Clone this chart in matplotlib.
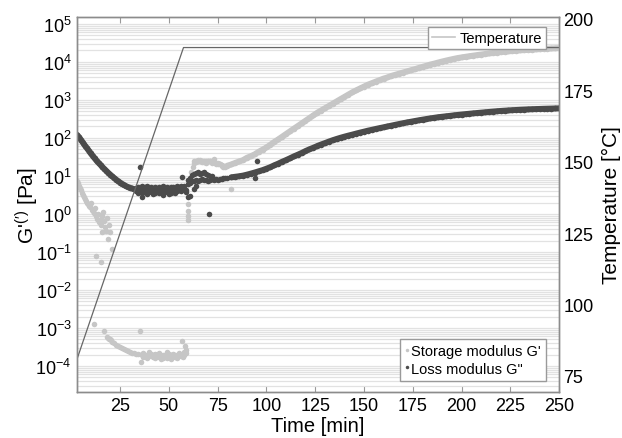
import matplotlib
matplotlib.use('Agg')
import matplotlib.pyplot as plt
from matplotlib.lines import Line2D
from matplotlib.ticker import LogLocator, NullFormatter

plt.rcParams['font.family'] = ['Liberation Sans', 'DejaVu Sans']
plt.rcParams['mathtext.fontset'] = 'custom'
plt.rcParams['mathtext.rm'] = 'Liberation Sans'
plt.rcParams['mathtext.it'] = 'Liberation Sans:italic'

# ---- temperature program ----
temp_time = [0, 57.5, 250]
temp_val = [75, 190, 190]

# ---- loss modulus G'' (dark) ----
loss_t1 = list(range(3, 33))
loss_v1 = [120, 104, 88, 75, 63, 54, 46, 39, 33.5, 29, 25, 22, 19.5, 17, 15.2,
           13.5, 12, 10.8, 9.7, 8.8, 8.0, 7.3, 6.7, 6.2, 5.8, 5.4, 5.1, 4.9, 4.7, 4.5]

loss_t2 = list(range(33, 57))
loss_v2a = [4.9, 5.2, 4.8, 5.3, 4.6, 5.0, 5.4, 4.7, 5.1, 4.8, 5.2, 4.9, 5.0, 4.6,
            5.3, 4.8, 5.1, 4.7, 5.0, 5.2, 4.9, 5.4, 5.1, 5.6]
loss_v2b = [3.9, 3.6, 4.1, 3.5, 3.8, 4.0, 3.4, 3.7, 3.9, 3.3, 3.6, 4.0, 3.5, 3.8,
            3.2, 3.7, 3.9, 3.4, 3.6, 3.8, 3.5, 3.9, 4.2, 4.0]
loss_v2c = [4.4, 4.2, 4.5, 4.3, 4.1, 4.4, 4.6, 4.2, 4.3, 4.5, 4.1, 4.4, 4.3, 4.2,
            4.5, 4.3, 4.4, 4.1, 4.3, 4.6, 4.4, 4.5, 4.7, 4.9]

loss_t3 = [57, 58, 59, 60, 61, 62, 60, 61, 62]
loss_v3 = [5.0, 5.5, 4.2, 6.0, 6.5, 7.2, 8.0, 9.0, 10.5]

loss_t4 = list(range(63, 73))
loss_v4 = [11, 12, 12.5, 11.5, 12, 13, 11, 10.5, 10, 9.8]
loss_t5 = list(range(63, 81))
loss_v5 = [7.5, 8, 7.2, 7.8, 8.2, 7.6, 8, 7.4, 7.9, 8.1, 7.7, 8.2, 8.0, 8.4, 8.2,
           8.6, 8.8, 9.0]

loss_t6 = list(range(82, 251, 2))
loss_v6 = [9.2, 9.5, 9.8, 10.2, 10.8, 11.5, 12.3, 13.2, 14.2, 15.5, 17, 19, 21,
           23.5, 26, 29, 32.5, 36, 40, 45, 50, 55, 61, 67, 73, 80, 87, 94, 101,
           108, 115, 122, 130, 138, 146, 155, 163, 172, 181, 190, 200, 210, 221,
           232, 243, 255, 266, 278, 290, 302, 314, 326, 338, 350, 360, 370, 380,
           392, 402, 412, 422, 432, 442, 452, 462, 472, 482, 492, 502, 512, 520,
           528, 536, 543, 550, 556, 562, 568, 573, 578, 583, 587, 591, 595, 600]

loss_out_t = [35.2, 36, 56.6, 59, 59.7, 60.7, 63, 64, 70.4, 94, 95.4]
loss_out_v = [17, 2.8, 9.4, 3.8, 2.8, 3.0, 4.6, 5.6, 1.0, 9, 25]

# ---- storage modulus G' (light) ----
stor_t1 = [3, 3.5, 4, 4.5, 5, 5.5, 6, 6.5, 7, 7.5, 8, 8.5, 9, 9.5, 10, 10.5, 11,
           11.5, 12, 12.5, 13, 13.5, 14, 14.5, 15, 15.5, 16, 16.5, 17, 17.5, 18,
           18.5, 19, 19.5, 20, 21, 12.8, 15.3]
stor_v1 = [7.5, 6.5, 5.5, 4.8, 4.2, 3.6, 3.1, 2.8, 2.5, 2.2, 2.0, 1.8, 1.6, 1.5,
           1.9, 1.3, 1.2, 1.05, 1.4, 0.9, 0.75, 1.0, 0.6, 0.7, 0.5, 0.34, 0.9,
           1.1, 0.65, 0.45, 0.36, 0.8, 0.22, 0.5, 0.34, 0.12, 0.08, 0.056]

stor_t2 = [11.7, 16.8, 18.4, 19, 19.5, 20, 20.5, 21, 22, 23, 24, 25, 26, 27, 28,
           29, 30, 31, 32, 33, 34, 35, 35.7, 56.6, 58.5]
stor_v2 = [1.3e-3, 8.5e-4, 5.8e-4, 5.5e-4, 5.2e-4, 5.0e-4, 4.7e-4, 4.4e-4, 4.0e-4,
           3.6e-4, 3.3e-4, 3.1e-4, 2.9e-4, 2.8e-4, 2.6e-4, 2.5e-4, 2.35e-4,
           2.25e-4, 2.2e-4, 2.1e-4, 2.05e-4, 8.5e-4, 1.3e-4, 4.5e-4, 3.4e-4]

stor_t3 = list(range(36, 60))
stor_v3a = [1.9e-4, 2.2e-4, 1.8e-4, 2.0e-4, 2.3e-4, 1.9e-4, 1.7e-4, 2.1e-4, 1.8e-4,
            2.2e-4, 1.9e-4, 1.6e-4, 2.0e-4, 2.3e-4, 1.8e-4, 1.9e-4, 2.1e-4, 1.7e-4,
            2.0e-4, 2.2e-4, 1.8e-4, 2.1e-4, 2.4e-4, 2.6e-4]
stor_v3b = [2.1e-4, 1.7e-4, 2.0e-4, 1.6e-4, 1.8e-4, 2.1e-4, 2.0e-4, 1.6e-4, 2.0e-4,
            1.7e-4, 1.5e-4, 2.0e-4, 1.8e-4, 1.6e-4, 2.1e-4, 1.5e-4, 1.8e-4, 2.0e-4,
            1.6e-4, 1.9e-4, 2.0e-4, 1.7e-4, 1.9e-4, 2.2e-4]

stor_t4 = [59.7, 59.7, 59.7, 59.8, 61.6, 62.3, 81.6]
stor_v4 = [1.8, 1.2, 0.9, 0.7, 12.6, 17, 4.6]

stor_t5 = list(range(63, 80))
stor_v5a = [22, 25, 26, 24, 25, 23, 24, 25, 24, 23, 28, 22, 21, 20, 19, 17.5, 18]
stor_v5b = [24, 23, 25, 26, 23, 24, 22, 24, 25, 22, 24, 21, 22, 20, 18.5, 18, 17]

stor_t6 = list(range(80, 251, 2))
stor_v6 = [18.6, 20, 22, 24, 26, 30, 33, 37, 43, 49, 56, 66, 78, 91, 107, 126, 148,
           174, 204, 240, 282, 331, 389, 457, 525, 603, 692, 794, 912, 1050, 1200,
           1380, 1580, 1780, 2000, 2240, 2510, 2750, 3020, 3310, 3630, 3890, 4270,
           4570, 4900, 5250, 5600, 6000, 6400, 6900, 7400, 7900, 8500, 9000, 9600,
           10200, 10800, 11400, 12000, 12600, 13100, 13600, 14100, 14600, 15100,
           15600, 16100, 16600, 17100, 17600, 18100, 18500, 18900, 19300, 19700,
           20100, 20400, 20700, 21000, 21300, 21600, 21900, 22200, 22500, 22700,
           23000]

light = '#c6c6c6'
dark = '#4b4b4b'
ms = 4.0

fig = plt.figure(figsize=(6.22, 4.39), dpi=100)
ax = fig.add_axes([0.124, 0.105, 0.775, 0.854])
ax2 = ax.twinx()

def dots(t, v, c):
    ax.plot(t, v, 'o', color=c, ms=ms, mec='none', zorder=3)

def band(t, v, c):
    # densely sampled stretches: dots joined into a solid band
    ax.plot(t, v, '-o', color=c, ms=ms, mec='none', lw=4.3, zorder=3,
            solid_capstyle='round', solid_joinstyle='round')

dots(stor_t1, stor_v1, light)
dots(stor_t2, stor_v2, light)
dots(stor_t3, stor_v3a, light)
dots(stor_t3, stor_v3b, light)
dots(stor_t4, stor_v4, light)
dots(stor_t5, stor_v5a, light)
dots(stor_t5, stor_v5b, light)
band(stor_t6, stor_v6, light)

band(loss_t1, loss_v1, dark)
dots(loss_t2, loss_v2a, dark)
dots(loss_t2, loss_v2b, dark)
dots(loss_t2, loss_v2c, dark)
dots(loss_t3, loss_v3, dark)
dots(loss_t4, loss_v4, dark)
dots(loss_t5, loss_v5, dark)
band(loss_t6, loss_v6, dark)
dots(loss_out_t, loss_out_v, dark)

ax.set_yscale('log')
ax.set_xlim(3, 250)
ax.set_ylim(10 ** -4.68, 10 ** 5.18)
ax.set_xticks([25, 50, 75, 100, 125, 150, 175, 200, 225, 250])
ax.set_yticks([10.0 ** k for k in range(-4, 6)])
ax.yaxis.set_minor_locator(LogLocator(base=10, subs=[2, 3, 4, 5, 6, 7, 8, 9], numticks=100))
ax.yaxis.set_minor_formatter(NullFormatter())
ax.grid(True, which='both', axis='y', color='#e2e2e2', lw=0.9, zorder=0)
ax.tick_params(axis='x', direction='in', top=True, length=4, color='#999999',
               labelsize=13, pad=4)
ax.tick_params(axis='y', which='both', length=0, labelsize=13, pad=4)
ax.set_xlabel('Time [min]', fontsize=14.5, labelpad=1)
ax.set_ylabel(r"G'$^{(\prime)}$ [Pa]", fontsize=15, labelpad=-4)

ax2.plot(temp_time, temp_val, color='#666666', lw=0.9)
ax2.set_ylim(69.4, 200.7)
ax2.set_yticks([75, 100, 125, 150, 175, 200])
ax2.tick_params(axis='y', length=0, labelsize=13, pad=3)
ax2.set_ylabel('Temperature [°C]', fontsize=15, labelpad=6)

for a in (ax, ax2):
    for s in a.spines.values():
        s.set_color('#8c8c8c')
        s.set_linewidth(1.0)

h_temp = [Line2D([], [], color=light, lw=1.2)]
leg1 = ax2.legend(h_temp, ['Temperature'], loc='upper right',
                  bbox_to_anchor=(0.972, 0.972), borderaxespad=0, fontsize=10.5,
                  fancybox=False, edgecolor='#9a9a9a', framealpha=1,
                  handlelength=1.6, handletextpad=0.3, borderpad=0.25)
leg1.get_frame().set_linewidth(1.0)
ax2.add_artist(leg1)

h_mod = [Line2D([], [], ls='none', marker='o', color=light, ms=2.5, mec='none'),
         Line2D([], [], ls='none', marker='o', color=dark, ms=2.5, mec='none')]
leg2 = ax2.legend(h_mod, ["Storage modulus G'", 'Loss modulus G"'],
                  loc='lower right', bbox_to_anchor=(0.972, 0.030),
                  borderaxespad=0, fontsize=10.5, fancybox=False,
                  edgecolor='#9a9a9a', framealpha=1, handlelength=0.3,
                  handletextpad=0.1, borderpad=0.35, labelspacing=0.25)
leg2.get_frame().set_linewidth(1.0)

fig.savefig('out.png', dpi=100)
